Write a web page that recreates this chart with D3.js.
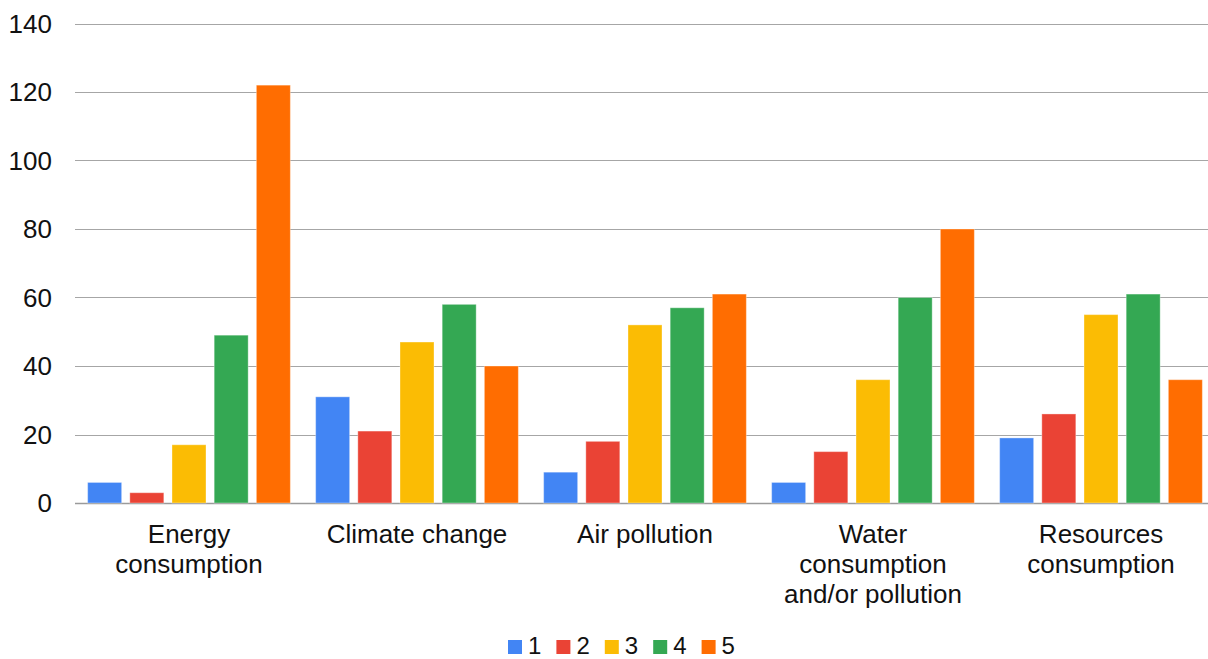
<!DOCTYPE html>
<html>
<head>
<meta charset="utf-8">
<script src="https://cdn.jsdelivr.net/npm/d3@7"></script>
<style>
  html, body { margin: 0; padding: 0; background: #fff; }
  svg { display: block; font-family: "Liberation Sans", Arial, sans-serif; }
</style>
</head>
<body>
<svg id="chart" width="1208" height="659"></svg>
<script>
// Impact categories (x axis) — each label split into lines
const categories = [
  ["Energy", "consumption"],
  ["Climate change"],
  ["Air pollution"],
  ["Water", "consumption", "and/or pollution"],
  ["Resources", "consumption"]
];
const seriesNames = ["1", "2", "3", "4", "5"];
const seriesColors = ["#4285F4", "#EA4335", "#FBBC04", "#34A853", "#FF6D01"];

// Counts per rating, one array per rating level
const rating1 = [6, 31, 9, 6, 19];
const rating2 = [3, 21, 18, 15, 26];
const rating3 = [17, 47, 52, 36, 55];
const rating4 = [49, 58, 57, 60, 61];
const rating5 = [122, 40, 61, 80, 36];
const seriesValues = [rating1, rating2, rating3, rating4, rating5];

const yTicks = [0, 20, 40, 60, 80, 100, 120, 140];

(function draw() {
  const svg = d3.select("#chart");
  const plotLeft = 75, plotRight = 1215, plotTop = 23.5, plotBottom = 503;

  const catKeys = categories.map((c, i) => i);
  const x0 = d3.scaleBand().domain(catKeys).range([plotLeft, plotRight]).padding(0);
  const x1 = d3.scaleBand().domain(seriesNames).range([0, x0.bandwidth()])
    .paddingInner(0.194).paddingOuter(0.3);
  const y = d3.scaleLinear().domain([0, 140]).range([plotBottom, plotTop]);

  // Horizontal gridlines
  svg.append("g").selectAll("line").data(yTicks).join("line")
    .attr("x1", plotLeft).attr("x2", 1208)
    .attr("y1", d => Math.round(y(d)) + 0.5).attr("y2", d => Math.round(y(d)) + 0.5)
    .attr("stroke", d => d === 0 ? "#9a9a9a" : "#a6a6a6")
    .attr("stroke-width", d => d === 0 ? 1.6 : 1.2);

  // Y tick labels
  svg.append("g").selectAll("text").data(yTicks).join("text")
    .attr("x", 52).attr("y", d => y(d))
    .attr("dy", "0.35em")
    .attr("text-anchor", "end")
    .attr("font-size", 26)
    .attr("fill", "#111")
    .text(d => d);

  // Bars
  const groups = svg.append("g").selectAll("g").data(catKeys).join("g")
    .attr("transform", d => `translate(${x0(d)},0)`);
  groups.selectAll("rect")
    .data(ci => seriesNames.map((s, si) => ({ s, si, v: seriesValues[si][ci] })))
    .join("rect")
    .attr("x", d => x1(d.s))
    .attr("width", x1.bandwidth())
    .attr("y", d => y(d.v))
    .attr("height", d => y(0) - y(d.v))
    .attr("fill", d => seriesColors[d.si])
    .attr("stroke", "#fff")
    .attr("stroke-opacity", 0.35)
    .attr("stroke-width", 1);

  // Category labels
  const catLabels = svg.append("g").selectAll("text").data(catKeys).join("text")
    .attr("x", d => x0(d) + x0.bandwidth() / 2)
    .attr("y", 543)
    .attr("text-anchor", "middle")
    .attr("font-size", 26)
    .attr("fill", "#111");
  catLabels.selectAll("tspan").data(d => categories[d]).join("tspan")
    .attr("x", function () { return d3.select(this.parentNode).attr("x"); })
    .attr("dy", (d, i) => i === 0 ? 0 : 30)
    .text(d => d);

  // Legend
  const legend = svg.append("g").selectAll("g").data(seriesNames).join("g")
    .attr("transform", (d, i) => `translate(${508 + i * 48.4},640)`);
  legend.append("rect")
    .attr("width", 14).attr("height", 14)
    .attr("fill", (d, i) => seriesColors[i]);
  legend.append("text")
    .attr("x", 20).attr("y", 14)
    .attr("font-size", 24)
    .attr("fill", "#111")
    .text(d => d);
})();
</script>
</body>
</html>
